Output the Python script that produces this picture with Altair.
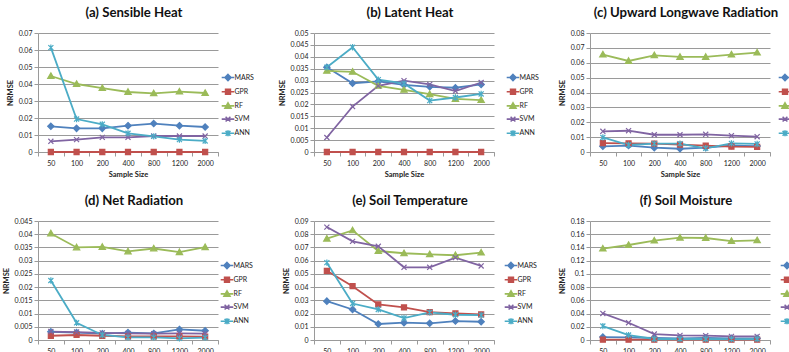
import altair as alt
import pandas as pd

sizes = ["50", "100", "200", "400", "800", "1200", "2000"]
models = ["MARS", "GPR", "RF", "SVM", "ANN"]
colors = ["#4F81BD", "#C0504D", "#9BBB59", "#8064A2", "#4BACC6"]

# (a) Sensible Heat
a_mars = [0.0151, 0.0139, 0.0139, 0.0155, 0.0167, 0.0155, 0.0147]
a_gpr = [0.0, 0.0, 0.0, 0.0, 0.0, 0.0, 0.0]
a_rf = [0.0447, 0.0400, 0.0376, 0.0353, 0.0345, 0.0355, 0.0347]
a_svm = [0.0063, 0.0073, 0.0086, 0.0086, 0.0094, 0.0094, 0.0094]
a_ann = [0.0614, 0.0194, 0.0163, 0.0110, 0.0092, 0.0073, 0.0065]
# (b) Latent Heat
b_mars = [0.0356, 0.0289, 0.0297, 0.0282, 0.0274, 0.0270, 0.0284]
b_gpr = [0.0, 0.0, 0.0, 0.0, 0.0, 0.0, 0.0]
b_rf = [0.0341, 0.0337, 0.0278, 0.0261, 0.0243, 0.0223, 0.0218]
b_svm = [0.0061, 0.0191, 0.0278, 0.0300, 0.0284, 0.0256, 0.0292]
b_ann = [0.0356, 0.0440, 0.0304, 0.0288, 0.0216, 0.0229, 0.0244]
# (c) Upward Longwave Radiation
c_mars = [0.0038, 0.0043, 0.0029, 0.0022, 0.0030, 0.0043, 0.0040]
c_gpr = [0.0060, 0.0058, 0.0056, 0.0049, 0.0043, 0.0036, 0.0034]
c_rf = [0.0655, 0.0612, 0.0650, 0.0639, 0.0639, 0.0655, 0.0668]
c_svm = [0.0139, 0.0143, 0.0116, 0.0116, 0.0119, 0.0110, 0.0103]
c_ann = [0.0098, 0.0047, 0.0056, 0.0056, 0.0025, 0.0058, 0.0054]
# (d) Net Radiation
d_mars = [0.0031, 0.0028, 0.0024, 0.0028, 0.0025, 0.0040, 0.0035]
d_gpr = [0.0016, 0.0019, 0.0016, 0.0014, 0.0014, 0.0014, 0.0013]
d_rf = [0.0403, 0.0350, 0.0352, 0.0335, 0.0346, 0.0332, 0.0351]
d_svm = [0.0032, 0.0030, 0.0027, 0.0025, 0.0024, 0.0025, 0.0024]
d_ann = [0.0225, 0.0065, 0.0019, 0.0010, 0.0010, 0.0006, 0.0009]
# (e) Soil Temperature
e_mars = [0.0294, 0.0231, 0.0121, 0.0131, 0.0126, 0.0143, 0.0138]
e_gpr = [0.0523, 0.0407, 0.0269, 0.0246, 0.0211, 0.0201, 0.0193]
e_rf = [0.0766, 0.0829, 0.0673, 0.0656, 0.0648, 0.0641, 0.0661]
e_svm = [0.0854, 0.0746, 0.0709, 0.0550, 0.0550, 0.0623, 0.0560]
e_ann = [0.0585, 0.0276, 0.0231, 0.0166, 0.0209, 0.0191, 0.0188]
# (f) Soil Moisture
f_mars = [0.0045, 0.0040, 0.0030, 0.0025, 0.0030, 0.0025, 0.0025]
f_gpr = [0.0005, 0.0005, 0.0005, 0.0005, 0.0005, 0.0005, 0.0005]
f_rf = [0.1382, 0.1437, 0.1503, 0.1548, 0.1543, 0.1497, 0.1508]
f_svm = [0.0402, 0.0261, 0.0090, 0.0070, 0.0065, 0.0055, 0.0055]
f_ann = [0.0211, 0.0075, 0.0015, 0.0015, 0.0015, 0.0012, 0.0015]

titles = ["(a) Sensible Heat", "(b) Latent Heat", "(c) Upward Longwave Radiation",
          "(d) Net Radiation", "(e) Soil Temperature", "(f) Soil Moisture"]
series = [
    [a_mars, a_gpr, a_rf, a_svm, a_ann],
    [b_mars, b_gpr, b_rf, b_svm, b_ann],
    [c_mars, c_gpr, c_rf, c_svm, c_ann],
    [d_mars, d_gpr, d_rf, d_svm, d_ann],
    [e_mars, e_gpr, e_rf, e_svm, e_ann],
    [f_mars, f_gpr, f_rf, f_svm, f_ann],
]
y_max = [0.07, 0.05, 0.08, 0.045, 0.09, 0.18]
y_step = [0.01, 0.005, 0.01, 0.005, 0.01, 0.02]
legend_gap = [5, 14, 10, 4, 12, 12]

marker_paths = [
    "M0,-1L1,0L0,1L-1,0Z",
    "M-0.8,-0.8L0.8,-0.8L0.8,0.8L-0.8,0.8Z",
    "M0,-1L1,0.75L-1,0.75Z",
    "M-0.8,-0.8L0.8,0.8M-0.8,0.8L0.8,-0.8",
    "M-0.8,-0.8L0.8,0.8M-0.8,0.8L0.8,-0.8M0,-1L0,1",
]
legend_line = "M-2.1,0L2.1,0"
legend_paths = [legend_line + p for p in marker_paths]

W, H = 180, 119
FONT = "Lato"
GRID = "#9a9a9a"


def panel(i):
    rows = []
    for m, vals in zip(models, series[i]):
        for s, v in zip(sizes, vals):
            rows.append({"Size": s, "Model": m, "Value": v})
    df = pd.DataFrame(rows)
    n = int(round(y_max[i] / y_step[i]))
    ticks = [round(k * y_step[i], 4) for k in range(n + 1)]
    top_row = i < 3

    x = alt.X("Size:N", sort=sizes, bandPosition=0.5,
              scale=alt.Scale(type="band", domain=sizes, paddingInner=0, paddingOuter=0),
              axis=alt.Axis(title="Sample Size" if top_row else None, labelAngle=0,
                            tickBand="extent", tickSize=4, tickColor=GRID, domainColor=GRID,
                            labelFontSize=7, labelColor="#222", labelPadding=3,
                            titleFontSize=7.5, titleFontWeight="bold", titlePadding=4,
                            titleColor="#222", grid=False))
    y = alt.Y("Value:Q",
              scale=alt.Scale(domain=[0, y_max[i]], nice=False, zero=True),
              axis=alt.Axis(values=ticks, format="~g", title="NRMSE", tickSize=4,
                            tickColor=GRID, domainColor=GRID, gridColor=GRID, gridWidth=1,
                            labelFontSize=7, labelColor="#222", labelPadding=2,
                            titleFontSize=7.5, titleFontWeight="bold", titlePadding=4,
                            titleColor="#222"))
    cscale = alt.Scale(domain=models, range=colors)
    leg = alt.Legend(orient="none", legendX=W + legend_gap[i] + 1, legendY=40.5, title=None,
                     labelFont=FONT, labelFontSize=7, labelColor="#222",
                     symbolSize=36, symbolStrokeWidth=1.6, labelOffset=2.5,
                     rowPadding=1.2, symbolOpacity=1)

    line = alt.Chart(df).mark_line(strokeWidth=1.8).encode(
        x=x, y=y, color=alt.Color("Model:N", scale=cscale, legend=None))
    pts = alt.Chart(df).mark_point(filled=True, size=40, strokeWidth=1.2, opacity=1).encode(
        x=x, y=y,
        color=alt.Color("Model:N", scale=cscale, legend=None),
        stroke=alt.Stroke("Model:N", scale=cscale, legend=None),
        shape=alt.Shape("Model:N", scale=alt.Scale(domain=models, range=marker_paths), legend=None))
    lg = alt.Chart(df).transform_filter("false").mark_point(
        filled=True, size=36, strokeWidth=1.6, opacity=1).encode(
        x=x, y=y,
        color=alt.Color("Model:N", scale=cscale, legend=leg),
        stroke=alt.Stroke("Model:N", scale=cscale, legend=leg),
        shape=alt.Shape("Model:N", scale=alt.Scale(domain=models, range=legend_paths), legend=leg))
    return alt.layer(line, pts, lg).resolve_scale(
        color="independent", stroke="independent", shape="independent"
    ).properties(
        width=W, height=H,
        title=alt.Title(titles[i], font=FONT, fontSize=13.2, fontWeight="bold", color="#111",
                        anchor="middle", frame="group", dx=6, offset=9))


chart = alt.concat(*[panel(i) for i in range(6)], columns=3,
                   spacing={"row": 69, "column": 96}, bounds="flush").resolve_scale(
    x="independent", y="independent"
).properties(
    padding={"left": 2, "top": 5, "right": -24, "bottom": 0}
).configure(font=FONT).configure_view(stroke=None)

chart.save("out.html", embed_options={"renderer": "svg", "actions": False})
